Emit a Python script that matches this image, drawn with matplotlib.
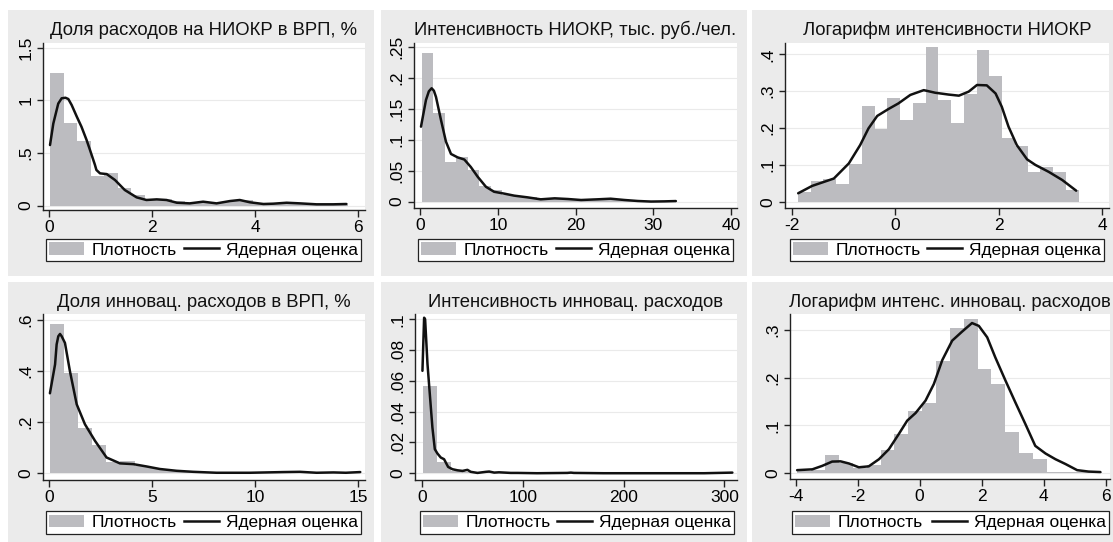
import numpy as np
import matplotlib
matplotlib.use("Agg")
import matplotlib.pyplot as plt
from matplotlib.patches import Rectangle, Patch
from matplotlib.lines import Line2D

plt.rcParams['font.family'] = ['Liberation Sans', 'DejaVu Sans']

W, H = 1113, 542
BAR_COLOR = '#bcbcc0'
PANEL_BG = '#ebebeb'
LINE_COLOR = '#111111'

# ---- data ----
titles = [
    'Доля расходов на НИОКР в ВРП, %',
    'Интенсивность НИОКР, тыс. руб./чел.',
    'Логарифм интенсивности НИОКР',
    'Доля инновац. расходов в ВРП, %',
    'Интенсивность инновац. расходов',
    'Логарифм интенс. инновац. расходов',
]
legend_labels = ['Плотность', 'Ядерная оценка']

# panel 1
p1_bin_start, p1_bin_width = 0.02, 0.2625
p1_hist = [1.263, 0.788, 0.617, 0.285, 0.31, 0.171, 0.10, 0.055, 0.06, 0.04, 0.03,
           0.035, 0.03, 0.045, 0.05, 0.02, 0.015, 0.025, 0.02, 0.01, 0.01, 0.01]
p1_kde_x = [0.02, 0.084, 0.18, 0.246, 0.32, 0.375, 0.44, 0.54, 0.63, 0.73, 0.795, 0.89,
            0.92, 0.99, 1.12, 1.28, 1.47, 1.70, 1.89, 2.09, 2.28, 2.48, 2.73, 2.99, 3.25,
            3.51, 3.70, 3.90, 4.16, 4.35, 4.61, 4.87, 5.19, 5.51, 5.77]
p1_kde_y = [0.576, 0.78, 0.97, 1.02, 1.025, 1.013, 0.956, 0.845, 0.75, 0.623, 0.53, 0.39,
            0.339, 0.307, 0.30, 0.244, 0.149, 0.079, 0.054, 0.06, 0.054, 0.028, 0.022,
            0.038, 0.022, 0.044, 0.054, 0.032, 0.016, 0.019, 0.028, 0.022, 0.013, 0.013,
            0.016]

# panel 2
p2_bin_start, p2_bin_width = 0.2, 1.48
p2_hist = [0.240, 0.1435, 0.0645, 0.0715, 0.051, 0.025, 0.019, 0.011, 0.008, 0.008, 0.006,
           0.004, 0.004, 0.005, 0.004, 0.003, 0.003, 0.004, 0.003, 0.001, 0.001, 0.001]
p2_kde_x = [0.09, 0.73, 1.1, 1.46, 1.75, 2.02, 2.66, 3.3, 3.95, 4.8, 5.67, 6.5, 7.4, 8.45,
            9.5, 10.8, 12.1, 13.8, 15.5, 17.3, 19.0, 20.7, 22.8, 24.5, 26.3, 28.0, 29.7,
            31.4, 32.9]
p2_kde_y = [0.121, 0.164, 0.178, 0.183, 0.179, 0.169, 0.132, 0.097, 0.077, 0.0715, 0.068,
            0.056, 0.040, 0.024, 0.016, 0.013, 0.0097, 0.007, 0.0038, 0.0054, 0.0043,
            0.0027, 0.0038, 0.0048, 0.0027, 0.0011, 0.0002, 0.0005, 0.001]

# panel 3
p3_bin_start, p3_bin_width = -1.884, 0.247
p3_hist = [0.027, 0.056, 0.063, 0.048, 0.102, 0.26, 0.197, 0.283, 0.222, 0.267, 0.419,
           0.276, 0.213, 0.292, 0.412, 0.341, 0.174, 0.152, 0.08, 0.093, 0.08, 0.032]
p3_kde_x = [-1.88, -1.61, -1.19, -0.9, -0.68, -0.52, -0.35, -0.13, 0.06, 0.29, 0.55, 0.77,
            1.03, 1.23, 1.42, 1.58, 1.77, 1.94, 2.06, 2.19, 2.35, 2.55, 2.71, 2.97, 3.23, 3.5]
p3_kde_y = [0.023, 0.043, 0.063, 0.104, 0.154, 0.199, 0.233, 0.252, 0.267, 0.29, 0.303,
            0.296, 0.291, 0.288, 0.299, 0.317, 0.316, 0.294, 0.258, 0.204, 0.154, 0.115,
            0.1, 0.081, 0.059, 0.03]

# panel 4
p4_bin_start, p4_bin_width = 0.03, 0.685
p4_hist = [0.583, 0.391, 0.178, 0.110, 0.044, 0.048, 0.029, 0.019, 0.012, 0.008, 0.005,
           0.004, 0.003, 0.003, 0.003, 0.003, 0.004, 0.004, 0.003, 0.002, 0.003, 0.003]
p4_kde_x = [0.03, 0.28, 0.356, 0.437, 0.52, 0.6, 0.76, 1.0, 1.33, 1.73, 2.22, 2.78, 3.43,
            4.08, 4.72, 5.37, 6.18, 6.99, 8.12, 9.74, 11.36, 12.17, 12.98, 13.8, 14.4, 15.1]
p4_kde_y = [0.312, 0.425, 0.503, 0.535, 0.544, 0.535, 0.509, 0.399, 0.269, 0.191, 0.126,
            0.061, 0.038, 0.035, 0.026, 0.016, 0.009, 0.005, 0.0013, 0.0013, 0.004, 0.005,
            0.0013, 0.0026, 0.0013, 0.004]

# panel 5
p5_bin_start, p5_bin_width = 0.66, 13.8
p5_hist = [0.0567, 0.0076, 0.0015, 0.0008, 0.0005, 0.0004, 0.0002, 0.0001, 0.0001, 0.0001,
           0.0001, 0.0001, 0.0001, 0.0001, 0.0001, 0.0001, 0.0001, 0.0001, 0.0001, 0.0001,
           0.0001, 0.0001]
p5_kde_x = [0.0, 1.66, 2.65, 5.0, 7.6, 9.9, 12.3, 14.9, 18.2, 21.5, 25.5, 29.8, 34.8, 39.8,
            44.7, 48.0, 54.7, 63.0, 66.3, 71.3, 76.0, 87.8, 94.5, 114, 144, 147.5, 150.5,
            180, 220, 260, 280, 308]
p5_kde_y = [0.0665, 0.101, 0.1, 0.071, 0.049, 0.0297, 0.0156, 0.0128, 0.0102, 0.0091,
            0.0041, 0.0026, 0.0019, 0.0015, 0.0022, 0.0009, 0.0002, 0.0009, 0.0011, 0.0004,
            0.0006, 0.0002, 0.0002, 0.0, 0.0002, 0.0004, 0.0002, 0.0, 0.0, 0.0, 0.0, 0.0004]

# panel 6
p6_bin_start, p6_bin_width = -3.94, 0.447
p6_hist = [0.005, 0.006, 0.038, 0.02, 0.0105, 0.017, 0.049, 0.0825, 0.131, 0.1475, 0.2357,
           0.304, 0.323, 0.219, 0.187, 0.087, 0.043, 0.029, 0.003, 0.0015, 0.0015, 0.0015]
p6_kde_x = [-3.95, -3.46, -3.14, -2.82, -2.55, -2.28, -1.96, -1.64, -1.31, -0.99, -0.67,
            -0.40, -0.13, 0.19, 0.46, 0.73, 1.05, 1.37, 1.69, 1.91, 2.18, 2.44, 2.77, 3.09,
            3.41, 3.73, 4.06, 4.38, 4.70, 5.08, 5.45, 5.83]
p6_kde_y = [0.006, 0.0077, 0.015, 0.024, 0.0245, 0.02, 0.012, 0.014, 0.029, 0.050, 0.082,
            0.11, 0.126, 0.152, 0.187, 0.237, 0.278, 0.297, 0.315, 0.309, 0.285, 0.243,
            0.194, 0.148, 0.103, 0.057, 0.041, 0.029, 0.019, 0.006, 0.003, 0.002]

xticks = [[0, 2, 4, 6], [0, 10, 20, 30, 40], [-2, 0, 2, 4],
          [0, 5, 10, 15], [0, 100, 200, 300], [-4, -2, 0, 2, 4, 6]]
yticks = [[0, 0.5, 1, 1.5], [0, 0.05, 0.1, 0.15, 0.2, 0.25], [0, 0.1, 0.2, 0.3, 0.4],
          [0, 0.2, 0.4, 0.6], [0, 0.02, 0.04, 0.06, 0.08, 0.1], [0, 0.1, 0.2, 0.3]]
ytick_labels = [['0', '.5', '1', '1.5'], ['0', '.05', '.1', '.15', '.2', '.25'],
                ['0', '.1', '.2', '.3', '.4'], ['0', '.2', '.4', '.6'],
                ['0', '.02', '.04', '.06', '.08', '.1'], ['0', '.1', '.2', '.3']]

hists = [(p1_bin_start, p1_bin_width, p1_hist), (p2_bin_start, p2_bin_width, p2_hist),
         (p3_bin_start, p3_bin_width, p3_hist), (p4_bin_start, p4_bin_width, p4_hist),
         (p5_bin_start, p5_bin_width, p5_hist), (p6_bin_start, p6_bin_width, p6_hist)]
kdes = [(p1_kde_x, p1_kde_y), (p2_kde_x, p2_kde_y), (p3_kde_x, p3_kde_y),
        (p4_kde_x, p4_kde_y), (p5_kde_x, p5_kde_y), (p6_kde_x, p6_kde_y)]

# ---- layout (pixels, top-left origin) ----
panels = [(8, 10, 374, 276), (381, 10, 747, 276), (752, 10, 1113, 276),
          (8, 282, 374, 542), (381, 282, 747, 542), (752, 282, 1113, 542)]
plot_boxes = [(43, 43, 365, 210), (414, 43, 737, 208), (785, 43, 1109, 208),
              (43, 314, 365, 480), (415, 314, 737, 480), (790, 314, 1110, 479)]
xlims = [(-0.116, 6.13), (-0.81, 40.77), (-2.135, 4.135),
         (-0.306, 15.33), (-7.4, 312.6), (-4.18, 6.14)]
ylims = [(-0.041, 1.545), (-0.0102, 0.256), (-0.017, 0.431),
         (-0.027, 0.622), (-0.0044, 0.1034), (-0.0126, 0.334)]
legend_boxes = [(46, 237, 361, 263), (418, 237, 733, 263), (790, 237, 1104, 263),
                (46, 509, 361, 536), (420, 509, 734, 536), (792, 509, 1109, 536)]
title_base = [35, 35, 35, 307, 307, 307]

TITLE_FS = 13.3
TICK_FS = 12.5
LEGEND_FS = 12.5


def fig_rect(l, t, r, b):
    return [l / W, 1 - b / H, (r - l) / W, (b - t) / H]


fig = plt.figure(figsize=(W / 100, H / 100), dpi=100)
fig.patch.set_facecolor('white')

for i in range(6):
    l, t, r, b = panels[i]
    fig.add_artist(Rectangle((l / W, 1 - b / H), (r - l) / W, (b - t) / H,
                             transform=fig.transFigure, facecolor=PANEL_BG,
                             edgecolor='none', zorder=0))

    ax = fig.add_axes(fig_rect(*plot_boxes[i]))
    ax.set_facecolor('white')
    start, width, heights = hists[i]
    lefts = [start + k * width for k in range(len(heights))]
    ax.bar(lefts, heights, width=width, align='edge', color=BAR_COLOR,
           linewidth=0, zorder=2)
    kx, ky = kdes[i]
    ax.plot(kx, ky, color=LINE_COLOR, linewidth=1.8, zorder=3,
            solid_joinstyle='round', solid_capstyle='round')

    ax.set_xlim(*xlims[i])
    ax.set_ylim(*ylims[i])
    ax.set_xticks(xticks[i])
    ax.set_xticklabels([str(v) for v in xticks[i]])
    ax.set_yticks(yticks[i])
    ax.set_yticklabels(ytick_labels[i], rotation=90, va='center')
    ax.tick_params(axis='x', length=5, width=1, pad=2, labelsize=TICK_FS,
                   color='#222222')
    ax.tick_params(axis='y', length=4, width=1, pad=3, labelsize=TICK_FS,
                   color='#222222')
    for gy in yticks[i]:
        ax.axhline(gy, color='#eaeaea', linewidth=0.8, zorder=1)
    for s in ['top', 'right']:
        ax.spines[s].set_visible(False)
    for s in ['left', 'bottom']:
        ax.spines[s].set_linewidth(1.0)
        ax.spines[s].set_color('#222222')

    pl, pt, pr, pb = plot_boxes[i]
    fig.text((pl + pr) / 2 / W, 1 - title_base[i] / H, titles[i],
             ha='center', va='baseline', fontsize=TITLE_FS, color='#111111')

    handles = [Patch(facecolor=BAR_COLOR, edgecolor='none'),
               Line2D([], [], color=LINE_COLOR, linewidth=1.8)]
    ll, lt, lr, lb = legend_boxes[i]
    leg = ax.legend(handles, legend_labels, ncol=2, loc='center',
                    bbox_to_anchor=fig_rect(ll, lt, lr, lb),
                    bbox_transform=fig.transFigure, mode='expand',
                    fontsize=LEGEND_FS, frameon=True, fancybox=False,
                    edgecolor='#222222', framealpha=1, borderpad=0.2,
                    handlelength=2.0, handleheight=0.7, handletextpad=0.4,
                    columnspacing=0.8, borderaxespad=0)
    leg.get_frame().set_linewidth(0.9)

fig.savefig('out.png', dpi=100, facecolor='white')
